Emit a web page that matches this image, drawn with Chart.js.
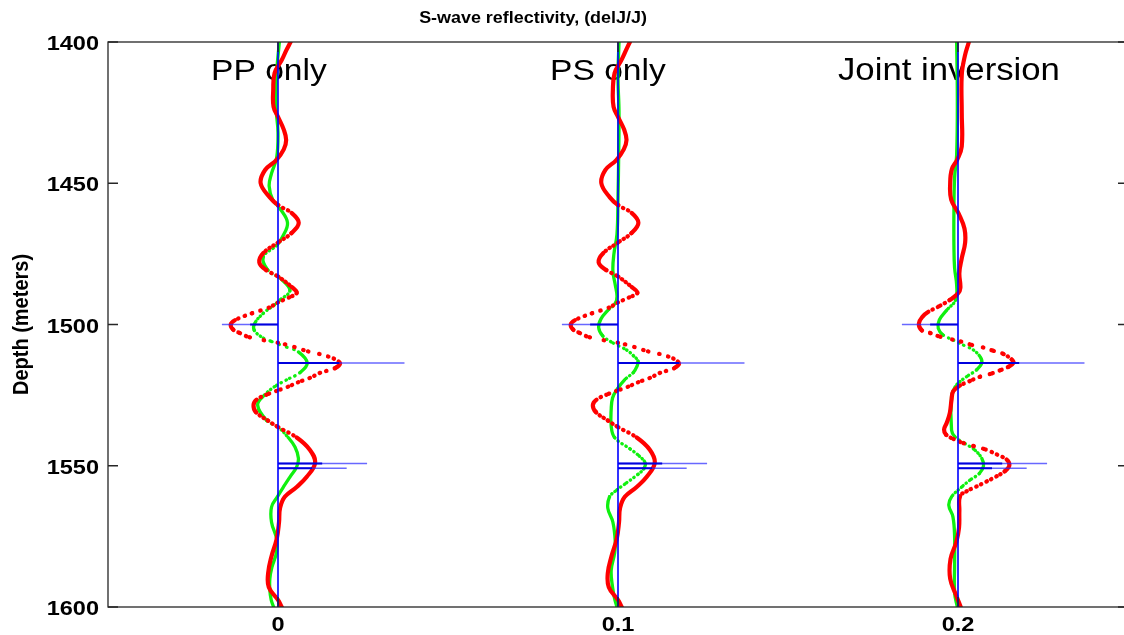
<!DOCTYPE html>
<html>
<head>
<meta charset="utf-8">
<script src="https://cdn.jsdelivr.net/npm/chart.js@4/dist/chart.umd.min.js"></script>
<style>
  body { margin: 0; overflow: hidden; background: #fff; }
  canvas { display: block; }
</style>
</head>
<body>
<canvas id="chart" width="1140" height="635"></canvas>
<script>
// axis ticks and trace layout
const xTickValues = [0, 0.1, 0.2];
const xTickLabels = ['0', '0.1', '0.2'];
const yTickValues = [1400, 1450, 1500, 1550, 1600];
const traceOffsets = [0, 0.1, 0.2];
const traceNames = ['PP only', 'PS only', 'Joint inversion'];

// reflectivity spikes (same in every panel)
const spikeDepth = [1500, 1513.6, 1549.2, 1550.9];
const spikeTrue = [-0.0165, 0.0372, 0.0262, 0.0202];
const spikeInner = [-0.0082, 0.018, 0.013, 0.010];

// PP only
const ppRedDepth = [1400, 1402.8, 1406.4, 1411, 1417, 1423, 1426.5, 1431, 1434.7, 1438, 1441.8, 1445.3, 1450, 1455, 1457.7, 1460.5, 1464, 1467.6, 1471, 1474.7, 1478, 1480.7, 1483, 1486.7, 1488.8, 1490.4, 1492.2, 1494, 1496, 1498.5, 1500, 1501.8, 1503, 1504.5, 1507, 1509.5, 1511.3, 1513.6, 1515.4, 1517.1, 1518.9, 1520.4, 1522, 1523.5, 1524.8, 1526.6, 1528.5, 1531, 1534, 1536.3, 1540, 1544.4, 1549, 1554, 1557.5, 1561, 1565, 1570, 1576, 1582, 1588, 1593, 1597.5, 1600];
const ppRedValue = [0.0037, 0.0025, 0.0011, -0.001, -0.0014, -0.0013, 0.0, 0.0017, 0.0024, 0.0017, -0.0005, -0.0038, -0.0051, -0.0024, 0.0, 0.004, 0.0061, 0.004, 0.0, -0.0043, -0.0055, -0.0035, 0.0, 0.004, 0.0055, 0.0033, 0.0, -0.0026, -0.0076, -0.0127, -0.0139, -0.0132, -0.0113, -0.0084, 0.002, 0.0088, 0.0147, 0.0182, 0.0168, 0.0124, 0.0094, 0.006, 0.003, -0.0004, -0.0033, -0.0063, -0.0072, -0.0065, -0.003, 0.0, 0.0055, 0.0094, 0.0109, 0.0084, 0.0055, 0.002, 0.0006, 0.0003, -0.0004, -0.0019, -0.0029, -0.0027, 0.0, 0.0011];
const ppGreenDepth = [1400, 1411, 1423, 1432, 1441, 1446.5, 1451, 1456, 1459, 1464, 1469, 1472, 1476, 1480.7, 1484, 1488, 1491.3, 1493, 1496, 1499.5, 1502, 1504.8, 1506, 1508, 1509.7, 1513.6, 1517, 1519.6, 1522, 1525, 1528.5, 1534, 1536.3, 1540, 1543.4, 1547.3, 1550.4, 1554, 1557.5, 1561, 1564.6, 1570, 1576, 1581, 1586, 1590, 1594, 1597.5, 1600];
const ppGreenValue = [0.0004, -0.0004, -0.0006, 0.0, -0.0004, -0.0019, -0.0026, -0.0015, 0.0006, 0.0028, 0.0013, -0.0004, -0.0043, -0.003, 0.001, 0.0035, 0.0006, -0.001, -0.0043, -0.0068, -0.007, -0.0043, -0.0019, 0.0025, 0.006, 0.0086, 0.0065, 0.0025, -0.001, -0.004, -0.006, -0.0033, 0.0, 0.003, 0.005, 0.006, 0.0055, 0.0035, 0.0016, -0.0002, -0.0019, -0.0019, -0.0004, -0.0005, -0.0018, -0.0024, -0.0024, -0.002, -0.0013];

// PS only
const psRedDepth = [1400, 1402.8, 1406.4, 1411, 1417, 1423, 1426.5, 1431, 1434.7, 1438, 1441.8, 1445.3, 1450, 1455, 1457.7, 1460.5, 1464, 1467.6, 1471, 1474.7, 1478, 1480.7, 1483, 1486.7, 1488.8, 1490.4, 1492.2, 1494, 1496, 1498.5, 1500, 1501.8, 1503, 1504.5, 1507, 1509.5, 1511.3, 1513.6, 1515.4, 1517.1, 1518.9, 1520.4, 1522, 1523.5, 1524.8, 1526.6, 1528.5, 1531, 1534, 1536.3, 1540, 1544.4, 1549, 1554, 1557.5, 1561, 1565, 1570, 1576, 1582, 1588, 1593, 1597.5, 1600];
const psRedValue = [0.0035, 0.0024, 0.001, -0.001, -0.0015, -0.0013, 0.0, 0.0018, 0.0025, 0.0017, -0.0005, -0.0037, -0.0049, -0.0024, 0.0, 0.004, 0.006, 0.004, 0.0, -0.0043, -0.0057, -0.0035, 0.0, 0.004, 0.0057, 0.0033, 0.0, -0.0026, -0.0076, -0.0127, -0.0139, -0.0132, -0.0113, -0.0084, 0.002, 0.0088, 0.0147, 0.0179, 0.0166, 0.0124, 0.0094, 0.006, 0.003, -0.0004, -0.0033, -0.0063, -0.0074, -0.0065, -0.003, 0.0, 0.0055, 0.0094, 0.0108, 0.0084, 0.0055, 0.002, 0.0006, 0.0003, -0.0004, -0.0019, -0.003, -0.0027, 0.0, 0.0011];
const psGreenDepth = [1400, 1412, 1425, 1440, 1455, 1468, 1475, 1481, 1486, 1490, 1492.5, 1495, 1498, 1501, 1504, 1506.5, 1509, 1511, 1513, 1515, 1517, 1519.5, 1523, 1526, 1530, 1536, 1540, 1544, 1546.5, 1549, 1551, 1553, 1556.5, 1559, 1561, 1565, 1570, 1577, 1581, 1587, 1593, 1597, 1600];
const psGreenValue = [0.0003, 0.0, 0.0003, 0.0002, 0.0, -0.0003, -0.0012, -0.0015, -0.0008, -0.0003, -0.0008, -0.003, -0.005, -0.0057, -0.0045, -0.0015, 0.0025, 0.0045, 0.0059, 0.0055, 0.0045, 0.002, -0.0003, -0.0016, -0.002, -0.002, -0.001, 0.0035, 0.0062, 0.008, 0.0076, 0.0059, 0.002, -0.0008, -0.0025, -0.003, -0.0015, -0.0008, -0.001, -0.002, -0.0016, -0.001, -0.0003];

// Joint inversion
const jtRedDepth = [1400, 1405, 1411.7, 1425, 1437, 1441.6, 1445, 1450, 1455.8, 1461, 1466, 1471, 1476.6, 1481.8, 1487, 1489, 1491.3, 1493.7, 1495.5, 1497.2, 1499.6, 1502, 1503, 1504.3, 1506, 1507.2, 1508.1, 1509.3, 1510.4, 1512.4, 1513.6, 1515, 1516.2, 1517.5, 1518.5, 1520, 1521.6, 1523.6, 1526.6, 1531.3, 1534.8, 1537.2, 1539, 1540.5, 1542, 1543, 1544.2, 1546, 1547.8, 1549.9, 1551.9, 1553.7, 1555.5, 1557.3, 1559, 1560.8, 1566, 1572, 1577, 1583, 1590, 1596, 1600];
const jtRedValue = [0.0032, 0.002, 0.0011, 0.0011, 0.0011, -0.0002, -0.0018, -0.0023, -0.002, 0.0003, 0.0019, 0.0021, 0.0011, 0.0004, 0.0007, 0.0, -0.0024, -0.0058, -0.0087, -0.0104, -0.0115, -0.0107, -0.0082, -0.0053, 0.0008, 0.004, 0.0073, 0.0104, 0.0133, 0.0158, 0.0163, 0.0148, 0.0124, 0.0095, 0.0065, 0.0035, 0.0006, -0.0014, -0.0019, -0.0024, -0.0033, -0.0041, -0.0035, -0.0014, 0.0016, 0.0045, 0.008, 0.0114, 0.0143, 0.0151, 0.0138, 0.0114, 0.0085, 0.0055, 0.0026, 0.0006, 0.0004, 0.0003, -0.0005, -0.0022, -0.0023, -0.0005, 0.0008];
const jtGreenDepth = [1400, 1420, 1440, 1448, 1460, 1472, 1480, 1486, 1491.3, 1494.9, 1498.4, 1501.4, 1503.7, 1505.5, 1507.3, 1509, 1511.4, 1513.6, 1516, 1518.4, 1520.2, 1522, 1525.6, 1537.4, 1539.8, 1542.1, 1544.5, 1547.4, 1550.1, 1552.7, 1555.1, 1557.5, 1561, 1564, 1568, 1575, 1585, 1595, 1600];
const jtGreenValue = [-0.0004, -0.0002, -0.0004, -0.001, -0.0012, -0.0012, -0.001, -0.0004, -0.0007, -0.0033, -0.0055, -0.0058, -0.0044, -0.0014, 0.0016, 0.0045, 0.0065, 0.007, 0.0055, 0.0026, 0.0006, -0.0008, -0.0019, -0.0019, -0.0009, 0.002, 0.005, 0.007, 0.0075, 0.0063, 0.0035, 0.0011, -0.0019, -0.0027, -0.0015, -0.001, -0.001, -0.001, -0.0002];

const RED = '#ff0000';
const GREEN = '#0ff00f';
const BLUE = '#0000ff';

// markers were plotted every metre: steep parts show separate dots
function dotted(c, width) {
  const ys = c.chart.scales.y;
  const step = Math.abs(ys.getPixelForValue(1401) - ys.getPixelForValue(1400));
  const dx = c.p1.x - c.p0.x;
  const dy = Math.abs(c.p1.y - c.p0.y);
  const gap = step * Math.hypot(dx, dy) / Math.max(dy, 0.1);
  return gap > width * 1.1 ? [0.5, gap - 0.5] : undefined;
}

function curve(depths, values, offset, color, width, order) {
  return {
    data: depths.map((d, i) => ({ x: offset + values[i], y: d })),
    showLine: true,
    borderColor: color,
    borderWidth: width,
    pointRadius: 0,
    tension: 0.4,
    borderCapStyle: 'round',
    borderJoinStyle: 'round',
    order: order,
    segment: { borderDash: c => dotted(c, width) }
  };
}

function straight(points, color, width, order) {
  return {
    data: points,
    showLine: true,
    borderColor: color,
    borderWidth: width,
    pointRadius: 0,
    order: order
  };
}

const curves = [
  [ppGreenDepth, ppGreenValue, ppRedDepth, ppRedValue],
  [psGreenDepth, psGreenValue, psRedDepth, psRedValue],
  [jtGreenDepth, jtGreenValue, jtRedDepth, jtRedValue]
];

const datasets = [];
traceOffsets.forEach((o, k) => {
  const [gd, gv, rd, rv] = curves[k];
  datasets.push(curve(gd, gv, o, GREEN, 3.3, 5));
  datasets.push(curve(rd, rv, o, RED, 4.2, 4));
  datasets.push(straight([{ x: o, y: yTickValues[0] }, { x: o, y: yTickValues[yTickValues.length - 1] }], BLUE, 1.6, 1));
  spikeDepth.forEach((d, i) => {
    datasets.push(straight([{ x: o, y: d }, { x: o + spikeTrue[i], y: d }], 'rgba(40,40,255,0.7)', 1.5, 3));
    datasets.push(straight([{ x: o, y: d }, { x: o + spikeInner[i], y: d }], '#0000dd', 2, 2));
  });
});

// text in the source picture is slightly stretched sideways
const STRETCH = 1.12;
function text(ctx, s, x, y, font, align, sx) {
  ctx.save();
  ctx.font = font;
  ctx.textAlign = align;
  ctx.textBaseline = 'alphabetic';
  ctx.fillStyle = '#000';
  ctx.translate(x, y);
  ctx.scale(sx, 1);
  ctx.fillText(s, 0, 0);
  ctx.restore();
}

const decor = {
  id: 'decor',
  beforeDatasetsDraw(chart) {
    const ctx = chart.ctx;
    const xs = chart.scales.x;
    const top = chart.chartArea.top;
    traceNames.forEach((name, k) => {
      const x = xs.getPixelForValue(traceOffsets[k]);
      const size = k === 2 ? 31 : 30;
      text(ctx, name, x - [67, 68, 120][k], top + 38, size + 'px "Liberation Sans", Arial, sans-serif', 'left', STRETCH);
    });
  },
  afterDatasetsDraw(chart) {
    const ctx = chart.ctx;
    const { left, right, top, bottom } = chart.chartArea;
    const xs = chart.scales.x, ys = chart.scales.y;
    ctx.save();
    ctx.strokeStyle = '#262626';
    ctx.lineWidth = 1.3;
    ctx.strokeRect(left, top, right - left, bottom - top);
    ctx.beginPath();
    yTickValues.forEach(v => {
      const y = ys.getPixelForValue(v);
      ctx.moveTo(left, y); ctx.lineTo(left + 10, y);
      ctx.moveTo(right, y); ctx.lineTo(right - 10, y);
    });
    xTickValues.forEach(v => {
      const x = xs.getPixelForValue(v);
      ctx.moveTo(x, bottom); ctx.lineTo(x, bottom - 10);
      ctx.moveTo(x, top); ctx.lineTo(x, top + 10);
    });
    ctx.stroke();
    ctx.restore();

    const tickFont = 'bold 21px "Liberation Sans", Arial, sans-serif';
    yTickValues.forEach(v => {
      text(ctx, String(v), left - 9, ys.getPixelForValue(v) + 8, tickFont, 'right', STRETCH);
    });
    xTickValues.forEach((v, i) => {
      text(ctx, xTickLabels[i], xs.getPixelForValue(v), bottom + 24, tickFont, 'center', STRETCH);
    });

    text(ctx, 'S-wave reflectivity, (delJ/J)', 533, 23, 'bold 16px "Liberation Sans", Arial, sans-serif', 'center', STRETCH);

    ctx.save();
    ctx.translate(22, (top + bottom) / 2);
    ctx.rotate(-Math.PI / 2);
    ctx.scale(1, STRETCH);
    ctx.font = 'bold 20px "Liberation Sans", Arial, sans-serif';
    ctx.textAlign = 'center';
    ctx.textBaseline = 'middle';
    ctx.fillStyle = '#000';
    ctx.fillText('Depth (meters)', 0, 0);
    ctx.restore();
  }
};

new Chart(document.getElementById('chart'), {
  type: 'scatter',
  data: { datasets: datasets },
  options: {
    responsive: false,
    animation: false,
    events: [],
    layout: { padding: { left: 108, top: 42, right: 12, bottom: 28 } },
    plugins: { legend: { display: false }, tooltip: { enabled: false } },
    scales: {
      x: { type: 'linear', min: -0.05, max: 0.25, display: false },
      y: { type: 'linear', min: 1400, max: 1600, reverse: true, display: false }
    }
  },
  plugins: [decor]
});
</script>
</body>
</html>
